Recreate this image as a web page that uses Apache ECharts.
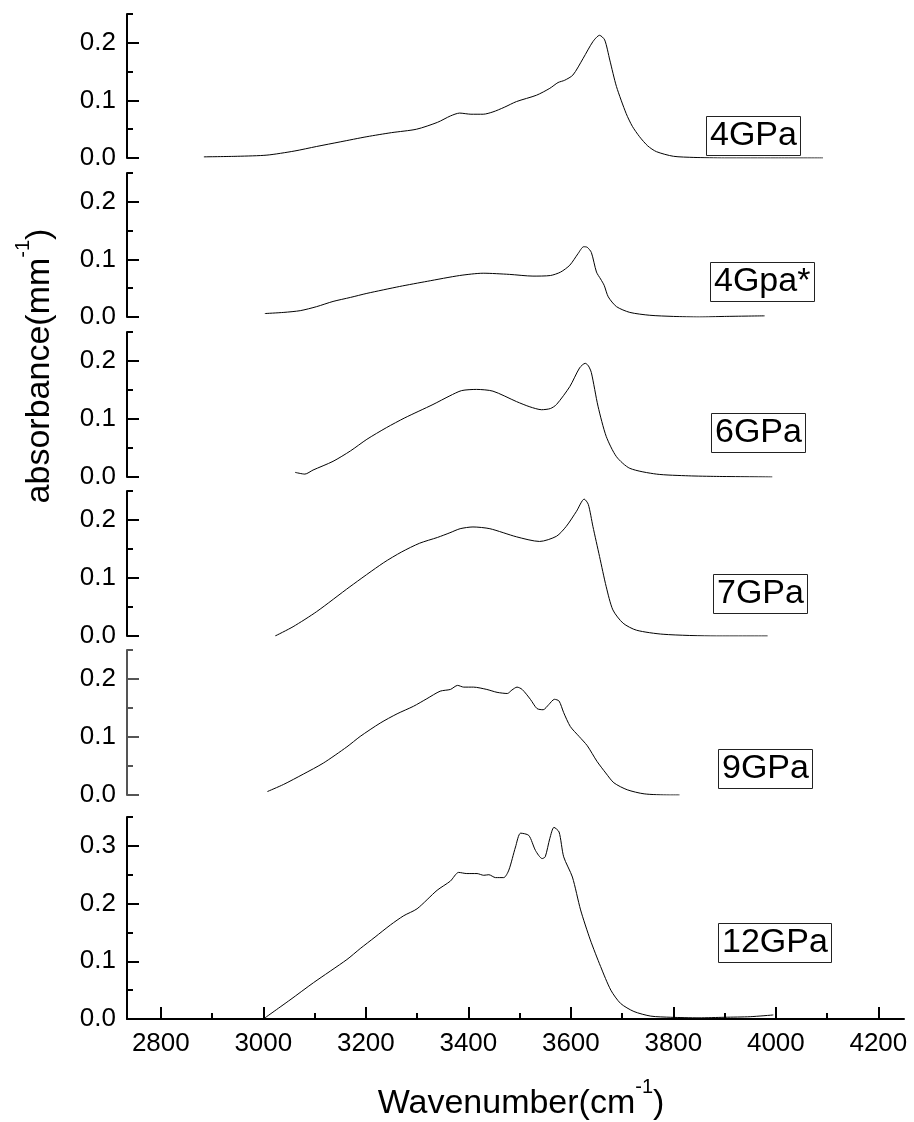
<!DOCTYPE html>
<html>
<head>
<meta charset="utf-8">
<script src="https://cdn.jsdelivr.net/npm/echarts@6/dist/echarts.min.js"></script>
<style>
  html, body { margin: 0; padding: 0; background: #fff; }
  #chart { width: 914px; height: 1122px; }
</style>
</head>
<body>
<div id="chart"></div>
<script>
// spectra, [wavenumber, absorbance]
var p4GPa = [[2884,0.002],[2950,0.003],[3007,0.005],[3060,0.012],[3104,0.020],[3150,0.028],[3202,0.037],[3250,0.044],[3299,0.050],[3340,0.062],[3365,0.073],[3383,0.078],[3405,0.076],[3429,0.076],[3448,0.080],[3470,0.088],[3494,0.098],[3533,0.109],[3559,0.121],[3575,0.131],[3588,0.135],[3604,0.144],[3624,0.173],[3643,0.202],[3656,0.213],[3666,0.205],[3676,0.170],[3689,0.124],[3708,0.077],[3720,0.055],[3734,0.037],[3750,0.021],[3767,0.011],[3800,0.003],[3840,0.001],[3900,0],[4000,0],[4092,0]];
var p4GpaStar = [[3003,0.006],[3040,0.008],[3072,0.011],[3104,0.018],[3136,0.027],[3170,0.034],[3202,0.041],[3266,0.053],[3320,0.062],[3383,0.072],[3429,0.076],[3480,0.074],[3526,0.071],[3560,0.072],[3580,0.078],[3598,0.090],[3614,0.110],[3625,0.122],[3632,0.121],[3640,0.112],[3650,0.078],[3658,0.066],[3665,0.055],[3673,0.035],[3689,0.018],[3715,0.008],[3754,0.003],[3800,0.001],[3851,0],[3900,0.001],[3978,0.002]];
var p6GPa = [[3062,0.008],[3081,0.005],[3097,0.012],[3136,0.027],[3170,0.045],[3202,0.065],[3240,0.085],[3276,0.102],[3331,0.125],[3364,0.140],[3387,0.149],[3416,0.151],[3448,0.148],[3494,0.130],[3520,0.121],[3543,0.116],[3560,0.118],[3572,0.125],[3598,0.156],[3617,0.188],[3628,0.196],[3634,0.192],[3640,0.180],[3653,0.122],[3669,0.070],[3689,0.035],[3715,0.015],[3767,0.005],[3830,0.002],[3884,0.001],[3993,0]];
var p7GPa = [[3023,0],[3058,0.016],[3104,0.042],[3169,0.085],[3234,0.126],[3270,0.145],[3305,0.160],[3340,0.170],[3364,0.178],[3384,0.185],[3409,0.188],[3442,0.185],[3494,0.171],[3539,0.163],[3572,0.172],[3591,0.189],[3611,0.215],[3626,0.236],[3634,0.227],[3643,0.189],[3656,0.137],[3669,0.085],[3682,0.045],[3702,0.022],[3728,0.010],[3780,0.003],[3884,0],[3984,0]];
var p9GPa = [[3008,0.006],[3039,0.018],[3078,0.036],[3117,0.055],[3163,0.083],[3189,0.101],[3228,0.124],[3261,0.140],[3293,0.153],[3319,0.166],[3345,0.179],[3365,0.182],[3379,0.189],[3391,0.186],[3410,0.186],[3436,0.182],[3456,0.177],[3476,0.175],[3485,0.181],[3495,0.186],[3505,0.182],[3521,0.165],[3534,0.149],[3546,0.147],[3557,0.156],[3568,0.165],[3577,0.162],[3586,0.142],[3599,0.118],[3616,0.101],[3632,0.085],[3651,0.058],[3668,0.038],[3684,0.021],[3710,0.009],[3743,0.002],[3792,0],[3812,0]];
var p12GPa = [[3000,0],[3052,0.033],[3098,0.063],[3163,0.103],[3189,0.122],[3218,0.142],[3248,0.163],[3274,0.179],[3300,0.191],[3339,0.223],[3365,0.239],[3381,0.254],[3397,0.252],[3417,0.252],[3430,0.249],[3440,0.250],[3453,0.245],[3469,0.245],[3479,0.258],[3492,0.298],[3502,0.322],[3518,0.318],[3531,0.292],[3544,0.278],[3550,0.281],[3559,0.313],[3567,0.332],[3577,0.324],[3586,0.281],[3603,0.246],[3619,0.189],[3638,0.137],[3658,0.091],[3678,0.050],[3697,0.027],[3723,0.013],[3756,0.005],[3795,0.003],[3850,0.002],[3900,0.003],[3950,0.004],[3995,0.007]];

var labels = ['4GPa', '4Gpa*', '6GPa', '7GPa', '9GPa', '12GPa'];
var spectra = [p4GPa, p4GpaStar, p6GPa, p7GPa, p9GPa, p12GPa];
var yMax = [0.25, 0.25, 0.25, 0.25, 0.25, 0.35];
var xTicks = [2800, 3000, 3200, 3400, 3600, 3800, 4000, 4200];
var xMinorTicks = [2900, 3100, 3300, 3500, 3700, 3900, 4100];

var font = 'Arial, "Liberation Sans", sans-serif';

// panel boxes (pixel top / height) and label box positions
var panelTop = [14, 173, 332, 491, 650, 817];
var panelH = [144, 144, 145, 145, 145, 202];
var labelPos = [[706, 116], [710, 262], [711, 413], [713, 574], [718, 749], [718, 923]];
var axisColor = ['#000', '#000', '#000', '#000', '#555', '#000'];

var myChart = echarts.init(document.getElementById('chart'), null, { renderer: 'canvas' });

var grids = [], xAxes = [], yAxes = [], series = [], titles = [];

function ticksUpTo(max, start) {
  var out = [];
  for (var v = start; v <= max + 1e-9; v += 0.1) out.push(Math.round(v * 100) / 100);
  return out;
}

for (var i = 0; i < 6; i++) {
  var last = i === 5;
  grids.push({ left: 127, right: 10, top: panelTop[i], height: panelH[i], outerBoundsMode: 'none' });

  xAxes.push({
    type: 'value', gridIndex: i, min: 2734, max: 4250, show: last,
    axisLine: { show: true, onZero: false, lineStyle: { color: '#000', width: 2 } },
    axisTick: { show: true, inside: true, length: 12, customValues: xTicks, lineStyle: { color: '#000', width: 2 } },
    axisLabel: { show: true, customValues: xTicks, fontSize: 26, color: '#000', fontFamily: font, margin: 12,
      formatter: function (v) { return String(v); } },
    splitLine: { show: false }
  });

  var major = ticksUpTo(yMax[i], 0);
  yAxes.push({
    type: 'value', gridIndex: i, min: 0, max: yMax[i], position: 'left',
    axisLine: { show: true, lineStyle: { color: axisColor[i], width: 2 } },
    axisTick: { show: true, inside: true, length: 12, customValues: major, lineStyle: { color: axisColor[i], width: 2 } },
    axisLabel: { customValues: major, fontSize: 26, color: '#000', fontFamily: font, margin: 11,
      formatter: function (v) { return v.toFixed(1); } },
    splitLine: { show: false }
  });

  series.push({
    name: labels[i], type: 'line', xAxisIndex: i, yAxisIndex: i,
    data: spectra[i], showSymbol: false, symbol: 'none', smooth: 0.25,
    lineStyle: { color: '#000', width: 1 }, animation: false
  });

  titles.push({
    text: labels[i], left: labelPos[i][0], top: labelPos[i][1],
    padding: [1, 4, 1, 4], borderColor: '#222', borderWidth: 1,
    textStyle: { fontSize: 34, lineHeight: 38, fontWeight: 'normal', color: '#000', fontFamily: font }
  });
}

// minor ticks on their own axes
for (var j = 0; j < 6; j++) {
  yAxes.push({
    type: 'value', gridIndex: j, min: 0, max: yMax[j], position: 'left',
    axisLine: { show: false },
    axisTick: { show: true, inside: true, length: 6, customValues: ticksUpTo(yMax[j], 0.05), lineStyle: { color: axisColor[j], width: 2 } },
    axisLabel: { show: false }, splitLine: { show: false }
  });
}
xAxes.push({
  type: 'value', gridIndex: 5, min: 2734, max: 4250, position: 'bottom',
  axisLine: { show: false },
  axisTick: { show: true, inside: true, length: 6, customValues: xMinorTicks, lineStyle: { color: '#000', width: 2 } },
  axisLabel: { show: false }, splitLine: { show: false }
});

var option = {
  backgroundColor: '#fff',
  animation: false,
  title: titles,
  grid: grids,
  xAxis: xAxes,
  yAxis: yAxes,
  series: series,
  graphic: [
    {
      type: 'text', x: 521, y: 1099,
      style: {
        text: '{m|Wavenumber(cm}{s|-1}{m|)}', align: 'center', verticalAlign: 'middle', fill: '#000',
        rich: {
          m: { fontSize: 34, lineHeight: 44, fontFamily: font, verticalAlign: 'bottom' },
          s: { fontSize: 20, lineHeight: 20, fontFamily: font, verticalAlign: 'top' }
        }
      }
    },
    {
      type: 'text', x: 35, y: 366, rotation: Math.PI / 2,
      style: {
        text: '{m|absorbance(mm}{s|-1}{m|)}', align: 'center', verticalAlign: 'middle', fill: '#000',
        rich: {
          m: { fontSize: 34, lineHeight: 44, fontFamily: font, verticalAlign: 'bottom' },
          s: { fontSize: 20, lineHeight: 20, fontFamily: font, verticalAlign: 'top' }
        }
      }
    }
  ]
};

myChart.setOption(option);
</script>
</body>
</html>
